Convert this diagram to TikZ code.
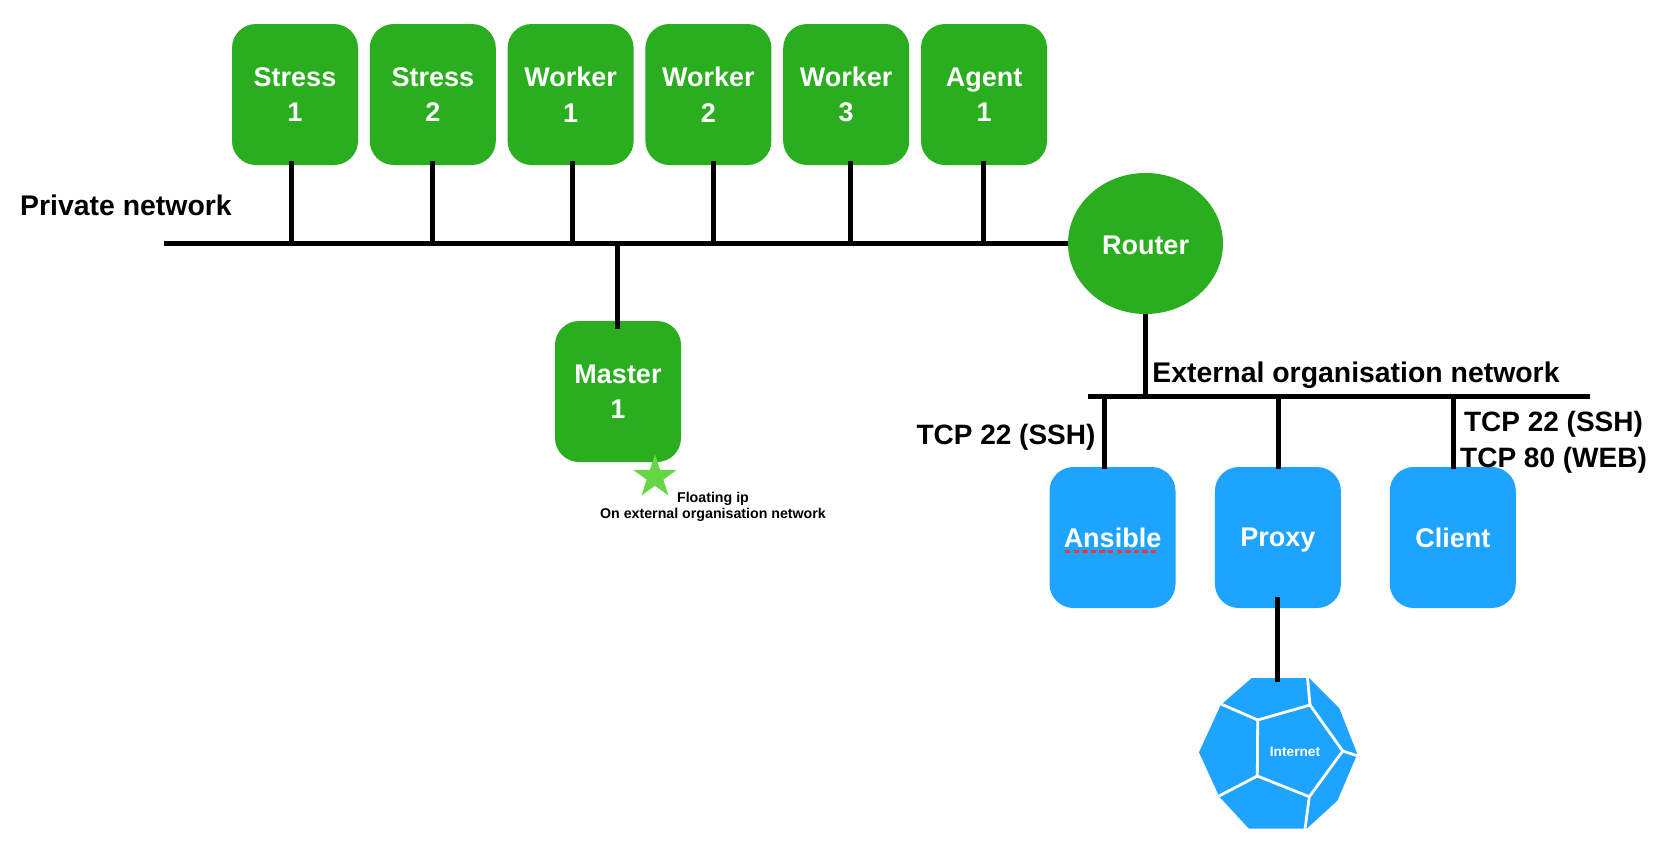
\documentclass[tikz,border=0pt]{standalone}
\usepackage{fontspec}
\setmainfont{Liberation Sans}
\usetikzlibrary{positioning, shapes.geometric}

\definecolor{vmgreen}{HTML}{2AAE1F}
\definecolor{netblue}{HTML}{1EA3FF}
\definecolor{stargreen}{HTML}{66D644}
\definecolor{spellred}{HTML}{F03A3A}

\begin{document}
\begin{tikzpicture}[
  x=1pt, y=-1pt,
  node distance=11.4pt,
  vmbox/.style={rectangle, rounded corners=24pt, fill=vmgreen, minimum width=126pt, minimum height=141pt, inner sep=0pt, text=white, align=center, font=\fontsize{27}{35.5}\selectfont\bfseries},
  extbox/.style={vmbox, fill=netblue, text depth=0pt},
  netlabel/.style={font=\fontsize{28.4}{34}\selectfont\bfseries, inner sep=0pt, align=center},
  portlabel/.style={netlabel, font=\fontsize{28}{34}\selectfont\bfseries},
  smalllabel/.style={font=\fontsize{14.2}{16}\selectfont\bfseries, inner sep=0pt, align=center},
  link/.style={line width=5pt},
  facet/.style={white, line width=2.8pt}
]
\useasboundingbox (0,0) rectangle (1660,852);

% Private network nodes
\node[vmbox] (stress1) at (295,94.5) {Stress\\1};
\node[vmbox, right=of stress1] (stress2) {Stress\\2};
\node[vmbox, right=of stress2] (worker1) {Worker\\1};
\node[vmbox, right=of worker1] (worker2) {Worker\\2};
\node[vmbox, right=of worker2] (worker3) {Worker\\3};
\node[vmbox, right=of worker3] (agent1) {Agent\\1};
\node[vmbox] (master1) at (618,391.5) {Master\\1};
\node[vmbox, ellipse, minimum width=155pt, minimum height=141pt, text height=22pt] (router) at (1145.5,243.5) {Router};

% External network nodes
\node[extbox] (ansible) at (1112.5,537.5) {Ansible};
\node[extbox, right=39pt of ansible] (proxy) {Proxy};
\node[extbox, right=48.5pt of proxy] (client) {Client};

% Internet
\fill[netblue] (1251.7,678) -- (1309,678) -- (1339.3,708.3) -- (1357.3,754) -- (1337.3,800.7) -- (1306.7,828.7) -- (1249,828.7) -- (1219.3,796.7) -- (1199,752.3) -- (1220.7,705) -- cycle;
\draw[facet] (1257.7,720) -- (1310,705) -- (1342.7,751) -- (1309.3,796.7) -- (1257.3,776) -- cycle;
\draw[facet] (1257.7,720) -- (1221,704);
\draw[facet] (1310,705) -- (1307.5,678);
\draw[facet] (1342.7,751) -- (1358,756);
\draw[facet] (1309.3,796.7) -- (1305,829);
\draw[facet] (1257.3,776) -- (1219,796);
\node[white, inner sep=0pt, font=\fontsize{13.7}{16}\selectfont\bfseries] (internet) at (1295,752) {Internet};

% Network buses
\coordinate (privatewest) at (164,243.5);
\coordinate (extwest) at (1088,396.7);
\coordinate (exteast) at (1590,396.7);
\coordinate (internettop) at (1277.5,682);
\draw[link] (privatewest) -- (privatewest -| router.west);
\draw[link] (extwest) -- (exteast);

% Links
\foreach \vm/\off in {stress1/-4, stress2/-0.5, worker1/2, worker2/5.5, worker3/4, agent1/-0.5}
  \draw[link] ([xshift=\off pt, yshift=4pt]\vm.south) coordinate (stem) -- (stem |- privatewest);
\draw[link] ([xshift=-0.7pt, yshift=-8pt]master1.north) coordinate (stem) -- (stem |- privatewest);
\draw[link] (router.south) -- (router.south |- extwest);
\draw[link] ([xshift=-7.9pt, yshift=-2pt]ansible.north) coordinate (stem) -- (stem |- extwest);
\draw[link] ([xshift=0.5pt, yshift=-2pt]proxy.north) coordinate (stem) -- (stem |- extwest);
\draw[link] ([xshift=0.5pt, yshift=-2pt]client.north) coordinate (stem) -- (stem |- extwest);
\draw[link] ([yshift=11pt]proxy.south) coordinate (stem) -- (stem |- internettop);

% Floating ip
\node[star, star points=5, star point ratio=2.6, fill=stargreen, minimum size=45.6pt, inner sep=0pt] (floating) at (655,477) {};
\node[smalllabel, anchor=center] (floatinglabel) at (713,507) {Floating ip\\On external organisation network};

% Labels
\node[netlabel] (privatelabel) at (126,205) {Private network};
\node[netlabel] (extlabel) at (1356,375) {External organisation network};
\node[portlabel] (ansibleport) at (1006,437) {TCP 22 (SSH)};
\node[portlabel] (clientport1) at (1553.5,424) {TCP 22 (SSH)};
\node[portlabel] (clientport2) at (1553.5,460) {TCP 80 (WEB)};

% Spell check mark
\draw[spellred, line width=3.4pt, dash pattern=on 5.4pt off 3.2pt] (1065,551.7) -- (1159,551.7);

\end{tikzpicture}
\end{document}
